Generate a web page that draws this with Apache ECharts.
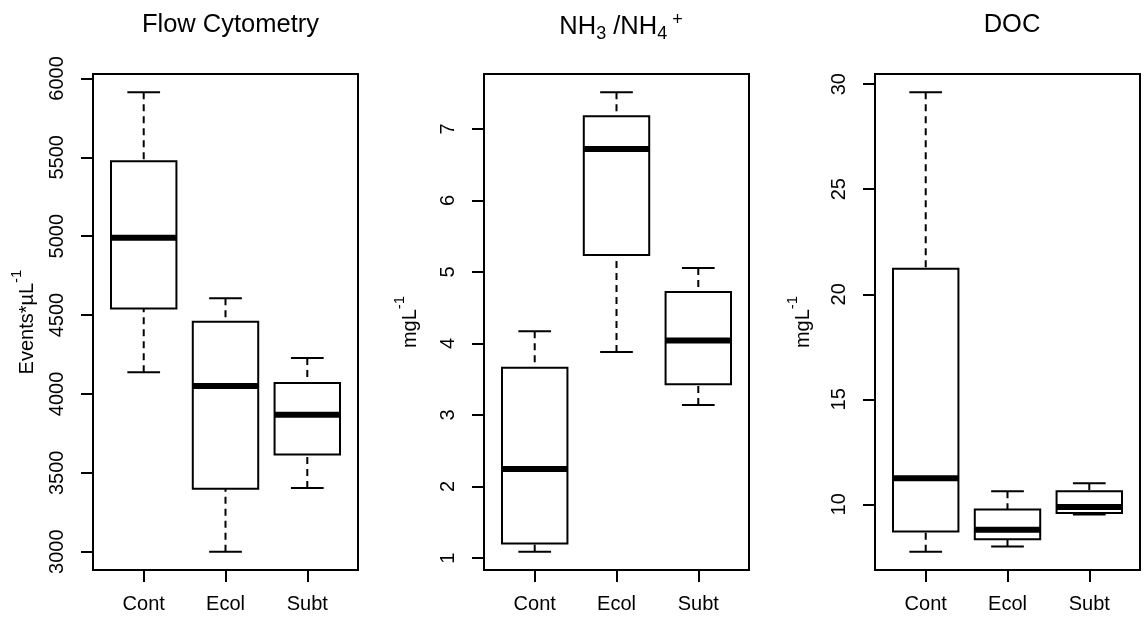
<!DOCTYPE html>
<html>
<head>
<meta charset="utf-8">
<script src="https://cdn.jsdelivr.net/npm/echarts@6/dist/echarts.min.js"></script>
<style>
  html, body { margin: 0; padding: 0; background: #fff; }
  #main { width: 1144px; height: 617px; }
</style>
</head>
<body>
<div id="main"></div>
<script>
// groups along the x axis
const categories = ['Cont', 'Ecol', 'Subt'];

// box stats per group: [lower whisker, Q1, median, Q3, upper whisker]
const flowStats = [
  [4137, 4541, 4990, 5476, 5912],
  [3000, 3399, 4050, 4457, 4606],
  [3404, 3616, 3868, 4070, 4227]
];
const nhStats = [
  [1.09, 1.205, 2.245, 3.66, 4.17],
  [3.88, 5.238, 6.72, 7.177, 7.51],
  [3.14, 3.43, 4.04, 4.72, 5.056]
];
const docStats = [
  [7.75, 8.71, 11.24, 21.22, 29.61],
  [8.0, 8.34, 8.79, 9.76, 10.62],
  [9.52, 9.59, 9.87, 10.62, 11.01]
];

// tick labels
const flowTicks = [3000, 3500, 4000, 4500, 5000, 5500, 6000];
const nhTicks = [1, 2, 3, 4, 5, 6, 7];
const docTicks = [10, 15, 20, 25, 30];

const FONT = "'Liberation Sans', Arial, Helvetica, sans-serif";

/**
 * R style range: data extent plus 4% each side
 */
function padRange(stats) {
  let lo = Infinity, hi = -Infinity;
  stats.forEach(s => {
    lo = Math.min(lo, s[0]);
    hi = Math.max(hi, s[4]);
  });
  const pad = (hi - lo) * 0.04;
  return [lo - pad, hi + pad];
}

/**
 * draw one R style box: box, thick median, dashed whiskers, staples
 */
function renderBox(params, api) {
  const x = api.value(0);
  const lo = api.value(1), q1 = api.value(2), med = api.value(3), q3 = api.value(4), hi = api.value(5);
  const half = 0.4, cap = 0.2;
  const tl = api.coord([x - half, q3]);
  const br = api.coord([x + half, q1]);
  const c = api.coord([x, med]);
  const pHi = api.coord([x, hi]);
  const pLo = api.coord([x, lo]);
  const capL = api.coord([x - cap, hi])[0];
  const capR = api.coord([x + cap, hi])[0];
  const line = { stroke: '#000', lineWidth: 2, fill: null };
  const dashed = { stroke: '#000', lineWidth: 2, lineDash: [7, 5], fill: null };
  return {
    type: 'group',
    children: [
      { type: 'line', shape: { x1: c[0], y1: pHi[1], x2: c[0], y2: tl[1] }, style: dashed },
      { type: 'line', shape: { x1: c[0], y1: pLo[1], x2: c[0], y2: br[1] }, style: dashed },
      { type: 'line', shape: { x1: capL, y1: pHi[1], x2: capR, y2: pHi[1] }, style: line },
      { type: 'line', shape: { x1: capL, y1: pLo[1], x2: capR, y2: pLo[1] }, style: line },
      {
        type: 'rect',
        shape: { x: tl[0], y: tl[1], width: br[0] - tl[0], height: br[1] - tl[1] },
        style: { fill: '#fff', stroke: '#000', lineWidth: 2 }
      },
      { type: 'line', shape: { x1: tl[0], y1: c[1], x2: br[0], y2: c[1] }, style: { stroke: '#000', lineWidth: 6, lineCap: 'butt' } }
    ]
  };
}

const panels = [
  { left: 93, stats: flowStats, ticks: flowTicks, name: '{m|Events*µL}{s|-1}', gap: 56 },
  { left: 484, stats: nhStats, ticks: nhTicks, name: '{m|mgL}{s|-1}', gap: 64 },
  { left: 875, stats: docStats, ticks: docTicks, name: '{m|mgL}{s|-1}', gap: 62 }
];

const grids = [], xAxes = [], yAxes = [], series = [];
panels.forEach((p, i) => {
  grids.push({
    left: p.left, top: 74, width: 265, height: 496,
    show: true, borderColor: '#000', borderWidth: 2, backgroundColor: 'transparent'
  });
  xAxes.push({
    gridIndex: i, type: 'value', min: 0.38, max: 3.62,
    axisLine: { show: false },
    splitLine: { show: false },
    axisTick: { show: true, length: 12, inside: false, customValues: [1, 2, 3], lineStyle: { color: '#000', width: 2 } },
    axisLabel: {
      customValues: [1, 2, 3], margin: 24, color: '#000', fontSize: 20, fontFamily: FONT,
      formatter: v => categories[Math.round(v) - 1] || ''
    }
  });
  const r = padRange(p.stats);
  yAxes.push({
    gridIndex: i, type: 'value', min: r[0], max: r[1],
    axisLine: { show: false },
    splitLine: { show: false },
    axisTick: { show: true, length: 12, inside: false, customValues: p.ticks, lineStyle: { color: '#000', width: 2 } },
    axisLabel: {
      customValues: p.ticks, rotate: 90, margin: 26, color: '#000', fontSize: 20, fontFamily: FONT,
      formatter: v => String(v)
    },
    name: p.name,
    nameLocation: 'middle',
    nameGap: p.gap,
    nameTextStyle: {
      color: '#000', fontFamily: FONT,
      rich: {
        m: { fontSize: 20, fontFamily: FONT, color: '#000', lineHeight: 28, verticalAlign: 'bottom' },
        s: { fontSize: 15, fontFamily: FONT, color: '#000', lineHeight: 28, verticalAlign: 'top' }
      }
    }
  });
  series.push({
    type: 'custom',
    xAxisIndex: i,
    yAxisIndex: i,
    renderItem: renderBox,
    encode: { x: 0, y: [1, 2, 3, 4, 5] },
    data: p.stats.map((s, k) => [k + 1].concat(s)),
    silent: true
  });
});

const titleStyle = { color: '#000', fontSize: 25.5, fontWeight: 'normal', fontFamily: FONT };

const chart = echarts.init(document.getElementById('main'), null, { renderer: 'canvas' });
chart.setOption({
  backgroundColor: '#fff',
  animation: false,
  title: [
    { text: 'Flow Cytometry', left: 225.5, top: 7, textAlign: 'center', textStyle: titleStyle },
    {
      text: '{n|NH}{b|3}{n| /NH}{b|4}{p| +}', left: 616, top: 6, textAlign: 'center',
      textStyle: {
        color: '#000', fontFamily: FONT, fontWeight: 'normal',
        rich: {
          n: { fontSize: 25.5, fontWeight: 'normal', fontFamily: FONT, color: '#000', lineHeight: 32, verticalAlign: 'middle' },
          b: { fontSize: 18, fontWeight: 'normal', fontFamily: FONT, color: '#000', lineHeight: 32, verticalAlign: 'bottom' },
          p: { fontSize: 18, fontWeight: 'normal', fontFamily: FONT, color: '#000', lineHeight: 32, verticalAlign: 'top' }
        }
      }
    },
    { text: 'DOC', left: 1007, top: 7, textAlign: 'center', textStyle: titleStyle }
  ],
  grid: grids,
  xAxis: xAxes,
  yAxis: yAxes,
  series: series
});
</script>
</body>
</html>
